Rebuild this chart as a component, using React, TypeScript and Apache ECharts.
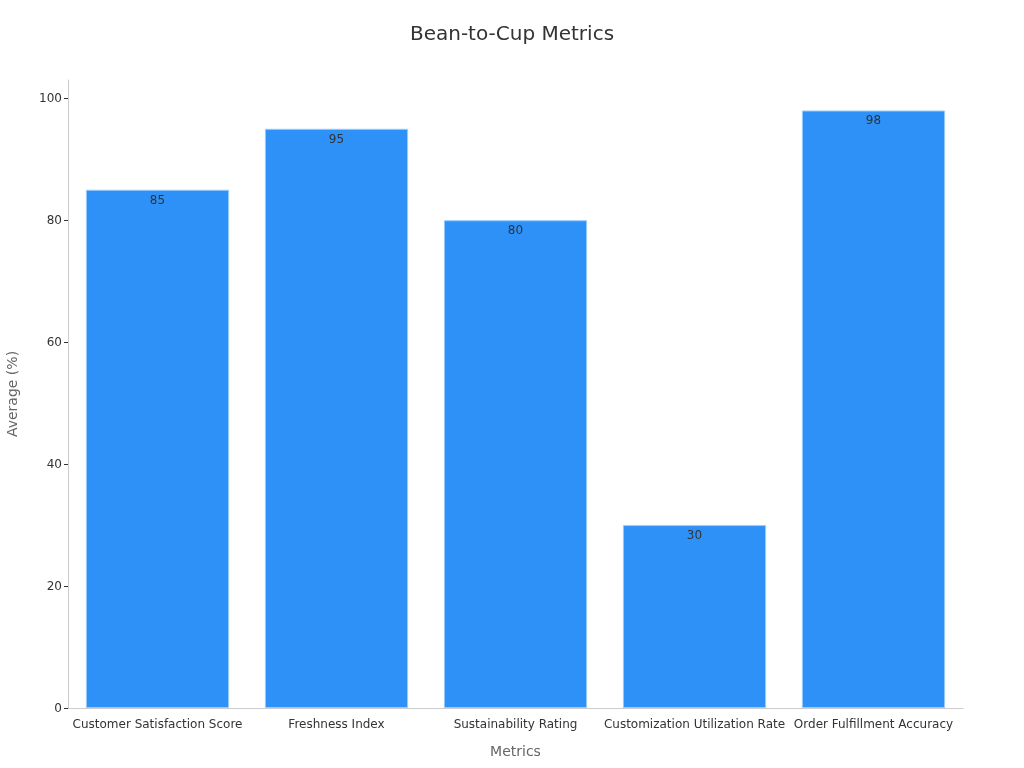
import React, { useEffect, useRef } from "react";
import * as echarts from "echarts";

const categories = [
  "Customer Satisfaction Score",
  "Freshness Index",
  "Sustainability Rating",
  "Customization Utilization Rate",
  "Order Fulfillment Accuracy",
];
const values = [85, 95, 80, 30, 98];
const yTicks = [0, 20, 40, 60, 80, 100];

export default function App() {
  const ref = useRef<HTMLDivElement>(null);
  useEffect(() => {
    if (!ref.current) return;
    const chart = echarts.init(ref.current, undefined, { renderer: "svg" });
    const font = "DejaVu Sans";
    chart.setOption({
      animation: false,
      textStyle: { fontFamily: font },
      title: {
        text: "Bean-to-Cup Metrics",
        left: "center",
        top: 18,
        textStyle: { fontFamily: font, fontSize: 20, fontWeight: "normal", color: "#333" },
      },
      grid: { left: 68, right: 61, top: 80, bottom: 60, outerBoundsMode: "none", containLabel: false },
      xAxis: {
        type: "category",
        data: categories,
        name: "Metrics",
        nameLocation: "middle",
        nameGap: 36,
        nameTextStyle: { fontFamily: font, fontSize: 14, color: "#666" },
        axisLine: { lineStyle: { color: "#ccc" } },
        axisTick: { alignWithLabel: true, length: 5, lineStyle: { color: "#333" } },
        axisLabel: { color: "#333", fontSize: 12, margin: 10, interval: 0 },
      },
      yAxis: {
        type: "value",
        min: 0,
        max: 103,
        name: "Average (%)",
        nameLocation: "middle",
        nameGap: 49,
        nameTextStyle: { fontFamily: font, fontSize: 14, color: "#666" },
        splitLine: { show: false },
        axisLine: { show: true, lineStyle: { color: "#ccc" } },
        axisTick: { show: true, length: 4, customValues: yTicks, lineStyle: { color: "#333" } },
        axisLabel: { color: "#333", fontSize: 12, margin: 6, customValues: yTicks },
      },
      series: [
        {
          type: "bar",
          data: values,
          barWidth: "80%",
          itemStyle: { color: "#2e91f8", borderColor: "#9acbfb", borderWidth: 1 },
          label: {
            show: true,
            position: "insideTop",
            distance: 4,
            color: "#333",
            fontSize: 12,
          },
        },
      ],
    });
    return () => chart.dispose();
  }, []);
  return (
    <div
      ref={ref}
      style={{ position: "fixed", left: 0, top: 0, width: 1024, height: 768 }}
    />
  );
}
